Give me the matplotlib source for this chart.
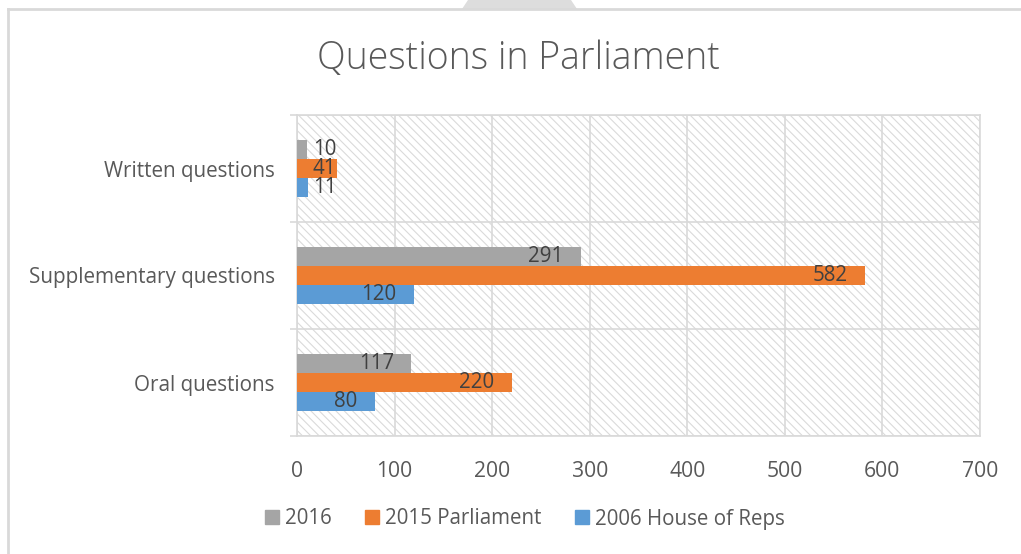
import matplotlib
matplotlib.use("Agg")
import matplotlib.pyplot as plt
from matplotlib.patches import Rectangle, Polygon
from matplotlib.lines import Line2D
import numpy as np

plt.rcParams["font.family"] = ["Open Sans", "DejaVu Sans"]
plt.rcParams["hatch.linewidth"] = 0.8

# categories, bottom to top
categories = ["Oral questions", "Supplementary questions", "Written questions"]
series_names = ["2016", "2015 Parliament", "2006 House of Reps"]
vals_2016 = [117, 291, 10]
vals_2015 = [220, 582, 41]
vals_2006 = [80, 120, 11]

COLORS = ["#A5A5A5", "#ED7D31", "#5B9BD5"]
TXT = "#595959"
LBL = "#404040"
GRID = "#D9D9D9"

W, H = 1021, 554
fig = plt.figure(figsize=(W / 100, H / 100), dpi=100)
ax = fig.add_axes([297 / W, 1 - 436 / H, (980 - 297) / W, (436 - 115) / H])

# patterned plot area
ax.add_patch(Rectangle((0, 0), 1, 1, transform=ax.transAxes, facecolor="white",
                       edgecolor="#DADADA", hatch="\\\\\\\\", linewidth=0, zorder=0))

y = np.arange(len(categories))
bh = 0.18
offsets = [bh, 0.0, -bh]
px_per_unit = (980 - 297) / 700
for vals, col, off, name in zip([vals_2016, vals_2015, vals_2006], COLORS, offsets, series_names):
    ax.barh(y + off, vals, height=bh * 0.98, color=col, zorder=3, label=name)
    for yi, v in zip(y, vals):
        if v * px_per_unit > 50:
            ax.annotate(str(v), xy=(v, yi + off), xytext=(-12.5, 0), textcoords="offset points",
                        ha="right", va="center", fontsize=14.8, color=LBL, zorder=5)
        else:
            ax.annotate(str(v), xy=(0, yi + off), xytext=(11.5, 0), textcoords="offset points",
                        ha="left", va="center", fontsize=14.8, color=LBL, zorder=5)

ax.set_xlim(0, 700)
ax.set_ylim(-0.5, 2.5)
ax.set_xticks(np.arange(0, 701, 100))
ax.set_yticks(y)
ax.set_yticklabels(categories)
ax.set_yticks([-0.5, 0.5, 1.5, 2.5], minor=True)
ax.tick_params(axis="y", which="major", length=0, pad=16, labelsize=14.9, labelcolor=TXT)
ax.tick_params(axis="y", which="minor", length=5, color=GRID, width=1.2)
ax.tick_params(axis="x", length=0, pad=18, labelsize=15.2, labelcolor=TXT)
ax.grid(axis="x", color=GRID, linewidth=1.2, zorder=1)
ax.grid(axis="y", which="minor", color=GRID, linewidth=1.2, zorder=1)
ax.set_axisbelow(True)
for s in ax.spines.values():
    s.set_color(GRID)
    s.set_linewidth(1.2)

fig.text(518 / W, 1 - 59 / H, "Questions in Parliament", ha="center", va="center",
         fontsize=27, color=TXT, fontweight="light")

handles = [Line2D([], [], marker="s", linestyle="", markersize=10, color=c) for c in COLORS]
fig.legend(handles, series_names, loc="center", bbox_to_anchor=(523 / W, 1 - 519 / H),
           ncol=3, frameon=False, fontsize=14.8, labelcolor=TXT, handletextpad=0.15,
           columnspacing=1.45, handlelength=1.0)

# outer chart frame and top tab
fig.add_artist(Line2D([8 / W, 8 / W], [0, 1 - 9 / H], transform=fig.transFigure,
                      color=GRID, linewidth=2))
fig.add_artist(Line2D([8 / W, 1], [1 - 9 / H, 1 - 9 / H], transform=fig.transFigure,
                      color=GRID, linewidth=2))
fig.add_artist(Polygon([[462 / W, 1 - 9 / H], [468 / W, 1], [571 / W, 1], [577 / W, 1 - 9 / H]],
                       closed=True, transform=fig.transFigure, facecolor="#DDDDDD",
                       edgecolor="none"))

fig.savefig("out.png", dpi=100)
